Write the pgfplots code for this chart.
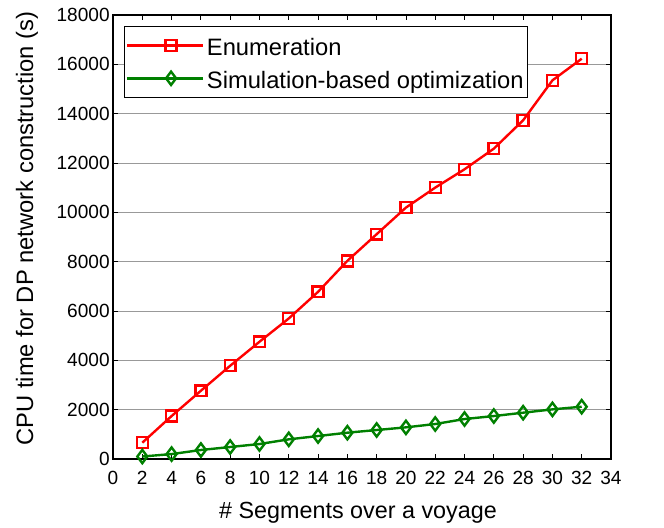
\documentclass[border=0pt]{standalone}
\usepackage{fontspec}
\setmainfont{Liberation Sans}
\usepackage{pgfplots}
\pgfplotsset{compat=1.18}
\definecolor{mgreen}{rgb}{0,0.5,0}
\begin{document}
\begin{tikzpicture}
\begin{axis}[
  scale only axis,
  width=373.5pt, height=333pt,
  xmin=0, xmax=34, ymin=0, ymax=18000,
  xtick={0,2,...,34},
  ytick={0,2000,...,18000},
  scaled y ticks=false,
  /pgf/number format/1000 sep={},
  /pgf/number format/assume math mode=true,
  tick align=inside,
  major tick length=4pt,
  tick style={black, line width=0.6pt},
  axis line style={black, line width=0.8pt},
  ymajorgrids,
  grid style={gray!80, line width=0.5pt},
  font=\fontsize{17.5}{20}\selectfont,
  ticklabel style={font=\fontsize{14.3}{17}\selectfont},
  xticklabel style={yshift=-5.5pt},
  yticklabel style={xshift=1pt},
  xlabel={\# Segments over a voyage},
  ylabel={CPU time for DP network construction (s)},
  xlabel style={at={(axis description cs:0.492,-0.1329)}, anchor=base},
  ylabel style={at={(axis description cs:-0.1606,0.519)}, anchor=base, font=\fontsize{17.8}{20}\selectfont},
  legend style={at={(0.0221,0.976)}, anchor=north west, draw=black, line width=0.8pt,
    font=\fontsize{17.8}{20}\selectfont, inner xsep=1pt, inner ysep=4pt,
    row sep=3.3pt,
    nodes={inner ysep=0pt, text height=18pt, text depth=3.2pt}},
  legend cell align=left,
  legend image code/.code={%
    \path (0pt,0pt) -- (57pt,0pt);
    \draw[mark repeat=2, mark phase=2, #1] plot coordinates {(9pt,0pt) (33pt,0pt) (57pt,0pt)};},
  legend image post style={line width=1.8pt},
]
\addplot[red, line width=1.8pt, mark=square, mark size=4.1pt, mark options={line width=1.8pt, solid}]
coordinates {
(2,660) (4,1741) (6,2766) (8,3780) (10,4752) (12,5697) (14,6777) (16,8033)
(18,9113) (20,10192) (22,11002) (24,11745) (26,12582) (28,13730) (30,15350) (32,16228)
};
\addlegendentry{Enumeration}
\addplot[mgreen, line width=1.8pt, mark=diamond, mark size=5pt, mark options={line width=1.8pt, solid}]
coordinates {
(2,100) (4,200) (6,365) (8,486) (10,607) (12,797) (14,931) (16,1066)
(18,1175) (20,1283) (22,1418) (24,1620) (26,1741) (28,1877) (30,2012) (32,2120)
};
\addlegendentry{Simulation-based optimization}
\end{axis}
% page frame: the axis box sits 113px from the left and 66px from the bottom
\path (current axis.south west) ++(-84.75pt,-49.5pt) rectangle ++(498pt,393.75pt);
\end{tikzpicture}
\end{document}
